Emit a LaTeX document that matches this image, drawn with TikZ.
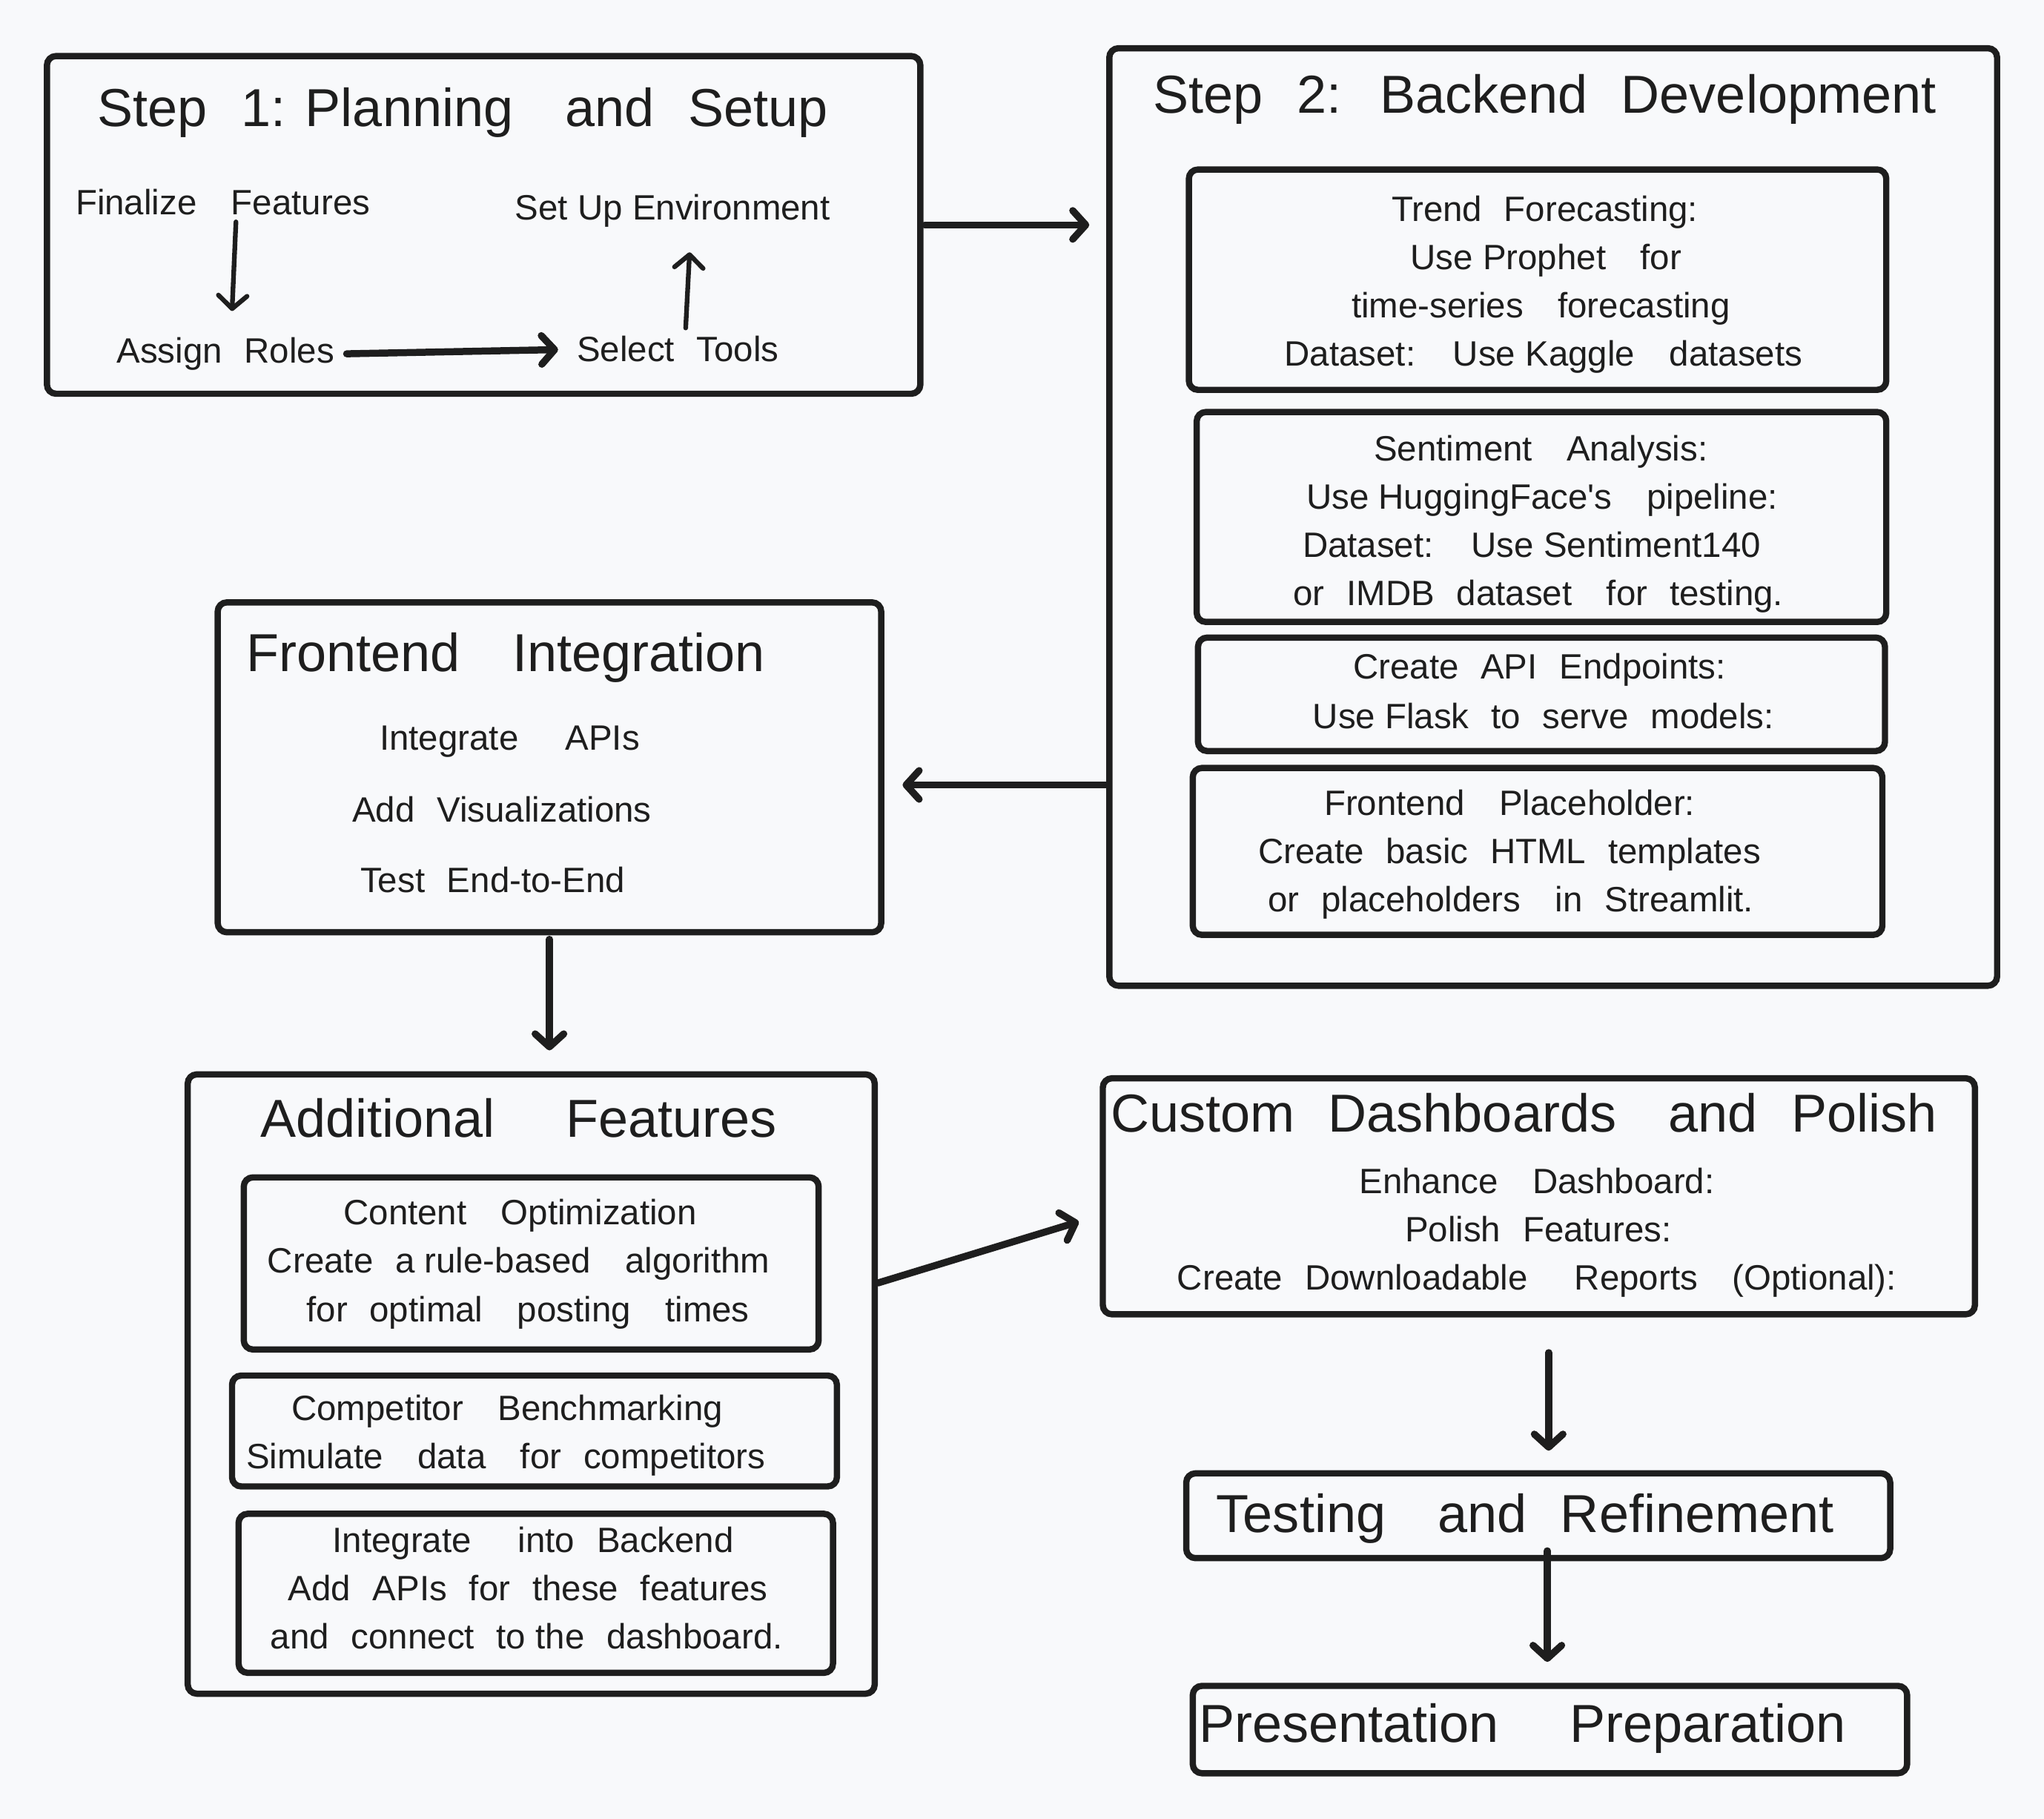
\documentclass[tikz,border=0pt]{standalone}
\usepackage{fontspec}
\setmainfont{Liberation Sans}[Ligatures=TeXOff]
\usetikzlibrary{arrows.meta}
\definecolor{bg}{HTML}{F8F9FB}
\definecolor{ink}{HTML}{1E1E1E}
\newlength\upx
\setlength\upx{0.1758mm}
\newcommand\gp{\hspace{0.35em}}
\begin{document}
\begin{tikzpicture}[x=0.1758mm,y=-0.1758mm,
 box/.style={draw=ink,line width=2.4pt,rounded corners=3.5pt,inner sep=0pt},
 ttl/.style={anchor=base,font=\fontsize{20.5}{24}\selectfont,text=ink,inner sep=0pt},
 txt/.style={anchor=base,font=\fontsize{13.5}{16}\selectfont,text=ink,inner sep=0pt},
 arr/.style={draw=ink,line width=2.7pt,line cap=round,-{Straight Barb[length=5pt,width=11pt,round]}},
 thinarr/.style={arr,line width=1.8pt}]
\fill[bg] (0,0) rectangle (1568,1395);
\useasboundingbox (0,0) rectangle (1568,1395);

% ---------- boxes ----------
\node[box,minimum width=670\upx,minimum height=259\upx] (b1) at (371,172.5) {};
\node[box,minimum width=681\upx,minimum height=719\upx] (b2) at (1191.5,396.5) {};
\node[box,minimum width=535\upx,minimum height=169\upx] (ba) at (1179.5,214.5) {};
\node[box,minimum width=529\upx,minimum height=161\upx] (bb) at (1182.5,396.5) {};
\node[box,minimum width=527\upx,minimum height=87\upx] (bc) at (1182.5,532.5) {};
\node[box,minimum width=529\upx,minimum height=128\upx] (bd) at (1179.5,653) {};
\node[box,minimum width=509\upx,minimum height=253\upx] (fe) at (421.5,588.5) {};
\node[box,minimum width=527\upx,minimum height=475\upx] (af) at (407.5,1061.5) {};
\node[box,minimum width=441\upx,minimum height=132\upx] (s1) at (407.5,969) {};
\node[box,minimum width=464\upx,minimum height=85\upx] (s2) at (410,1097.5) {};
\node[box,minimum width=456\upx,minimum height=122\upx] (s3) at (411,1222) {};
\node[box,minimum width=669\upx,minimum height=181\upx] (cd) at (1180.5,917.5) {};
\node[box,minimum width=540\upx,minimum height=65\upx] (tr) at (1180,1162.5) {};
\node[box,minimum width=548\upx,minimum height=67\upx] (pp) at (1189,1326.5) {};

% ---------- Step 1 ----------
\node[ttl] (t1) at (355,97) {Step\gp{} 1: Planning\gp\gp{} and\gp{} Setup};
\node[txt] (ff) at (171,164.5) {Finalize\gp\gp{} Features};
\node[txt] (se) at (516,168.5) {Set Up Environment};
\node[txt] (ar) at (173,278.5) {Assign\gp{} Roles};
\node[txt] (st) at (520,277.5) {Select\gp{} Tools};
\draw[thinarr] ([shift={(10,5)}]ff.south) -- ([shift={(5,-20)}]ar.north);
\draw[arr,shorten <=9\upx,shorten >=14\upx] (ar.east) -- (st.west);
\draw[thinarr] ([shift={(6,-6)}]st.north) -- ([shift={(13,19)}]se.south);

% ---------- Step 2 ----------
\node[ttl] (t2) at (1185,87) {Step\gp{} 2:\gp{} Backend\gp{} Development};
\node[txt] (a1) at (1185,169.5) {Trend\gp{} Forecasting:};
\node[txt] (a2) at (1186,206.5) {Use Prophet\gp\gp{} for};
\node[txt] (a3) at (1182,243.5) {time-series\gp\gp{} forecasting};
\node[txt] (a4) at (1184,280.5) {Dataset:\gp\gp{} Use Kaggle\gp\gp{} datasets};
\node[txt] (bb1) at (1182,353.5) {Sentiment\gp\gp{} Analysis:};
\node[txt] (bb2) at (1183,390.5) {Use HuggingFace's\gp\gp{} pipeline:};
\node[txt] (bb3) at (1175,427.5) {Dataset:\gp\gp{} Use Sentiment140};
\node[txt] (bb4) at (1180,464.5) {or\gp{} IMDB\gp{} dataset\gp\gp{} for\gp{} testing.};
\node[txt] (c1) at (1181,520.5) {Create\gp{} API\gp{} Endpoints:};
\node[txt] (c2) at (1184,558.5) {Use Flask\gp{} to\gp{} serve\gp{} models:};
\node[txt] (d1) at (1158,625.5) {Frontend\gp\gp{} Placeholder:};
\node[txt] (d2) at (1158,662.5) {Create\gp{} basic\gp{} HTML\gp{} templates};
\node[txt] (d3) at (1159,699.5) {or\gp{} placeholders\gp\gp{} in\gp{} Streamlit.};

% ---------- Frontend ----------
\node[ttl] (t3) at (388,515) {Frontend\gp\gp{} Integration};
\node[txt] (f1) at (391,575.5) {Integrate\gp\gp\gp{} APIs};
\node[txt] (f2) at (385,630.5) {Add\gp{} Visualizations};
\node[txt] (f3) at (378,684.5) {Test\gp{} End-to-End};

% ---------- Additional ----------
\node[ttl] (t4) at (398,872) {Additional\gp\gp\gp{} Features};
\node[txt] (p1) at (399,939.5) {Content\gp\gp{} Optimization};
\node[txt] (p2) at (398,976.5) {Create\gp{} a rule-based\gp\gp{} algorithm};
\node[txt] (p3) at (405,1013.5) {for\gp{} optimal\gp\gp{} posting\gp\gp{} times};
\node[txt] (q1) at (389,1089.5) {Competitor\gp\gp{} Benchmarking};
\node[txt] (q2) at (388,1126.5) {Simulate\gp\gp{} data\gp\gp{} for\gp{} competitors};
\node[txt] (r1) at (409,1190.5) {Integrate\gp\gp\gp{} into\gp{} Backend};
\node[txt] (r2) at (405,1227.5) {Add\gp{} APIs\gp{} for\gp{} these\gp{} features};
\node[txt] (r3) at (404,1264.5) {and\gp{} connect\gp{} to the\gp{} dashboard.};

% ---------- Custom ----------
\node[ttl] (t5) at (1169,868) {Custom\gp{} Dashboards\gp\gp{} and\gp{} Polish};
\node[txt] (e1) at (1179,915.5) {Enhance\gp\gp{} Dashboard:};
\node[txt] (e2) at (1180,952.5) {Polish\gp{} Features:};
\node[txt] (e3) at (1179,989.5) {Create\gp{} Downloadable\gp\gp\gp{} Reports\gp\gp{} (Optional):};

\node[ttl] (t6) at (1170,1175) {Testing\gp\gp{} and\gp{} Refinement};
\node[ttl] (t7) at (1168,1336) {Presentation\gp\gp\gp{} Preparation};

% ---------- connectors ----------
\draw[arr,shorten <=1\upx,shorten >=13\upx] (b1.east) -- (b1.east -| b2.west);
\draw[arr,shorten >=14\upx] (b2.west |- 0,602) -- (fe.east |- 0,602);
\draw[arr,shorten <=3\upx,shorten >=16\upx] (fe.south) -- (fe.south |- af.north);
\draw[arr] (af.east |- 0,984) -- ([xshift=-16\upx]cd.west |- 0,937);
\draw[arr,shorten <=27\upx,shorten >=15\upx] (cd.south -| 1188,0) -- (tr.north -| 1188,0);
\draw[arr,shorten >=16\upx] ([yshift=8\upx]tr.south -| 1187,0) -- (pp.north -| 1187,0);
\end{tikzpicture}
\end{document}
